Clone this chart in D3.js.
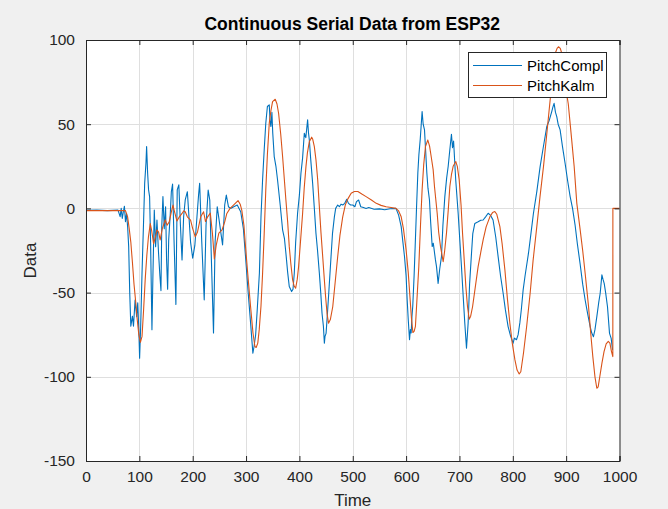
<!DOCTYPE html>
<html>
<head>
<meta charset="utf-8">
<script src="https://cdn.jsdelivr.net/npm/d3@7"></script>
<style>
  html, body { margin: 0; padding: 0; background: #f0f0f0; }
  svg { display: block; font-family: "Liberation Sans", Arial, Helvetica, sans-serif; }
</style>
</head>
<body>
<svg id="chart" width="668" height="509"></svg>
<script>
// ---- data ----
const xTicks = [0, 100, 200, 300, 400, 500, 600, 700, 800, 900, 1000];
const yTicks = [-150, -100, -50, 0, 50, 100];
const seriesNames = ["PitchCompl", "PitchKalm"];

const timeCompl = [0,20,40,60,64,66,68,70,72,74,76,78,80,82,84,87,89,92,95,97,99,100.5,102.5,105,108,110,112.4,113.6,115.5,117.3,119.2,121,123.6,125.5,128,130.5,133,136,138.5,140.5,142,144.2,146.7,149.2,151,153,155,158,160,162.3,165,168.5,171,174,177,180,183,186,190,193,196,200,204,208,211,213,217,221.6,225,229,232,235,239,242,246,250,253,256,260,263,267,271,277,283.5,290,295,299,304,308.5,312.8,315,318,321,325,328,331,334,337,340,343.5,345,346.6,348.5,350,352.8,356,359,364,368.5,372,374.7,378,381,385.4,388,390.4,393,396.6,400,402.9,406,409.2,412,415.4,417,418.6,421,424.8,428,431,434,437.4,440,442.4,445,446.8,448,450,452,455,459.3,462,465.6,468,471.8,475,478,481.2,485,488.7,492,496,500,504,507,511,515,520,525,530,540,550,560,570,581,586,590.8,594,597,600,602,604,606.4,608,609.5,611,612.5,615,617,619.5,622,624,626.4,628,630,632,634.5,636.5,638.9,641,643.8,646,648.9,651,655,657,660,663,666.3,669,672.6,676,678.9,682,685,687,689,693,697.6,700.5,703.8,707,710,713.2,716.3,719,722.6,725,728.8,735,740,744.4,749,753.8,758,763,768,772.5,777,781.9,786,791.2,796,800.6,803,806.9,810,813.2,816,819.4,823,829.4,834,838.7,845,851.2,857,863.7,868,873,875,877.4,880,882.4,885,888.7,893,898,903,907.5,912,916.8,921,926.2,931,935.6,940,945,948,951.2,954,957.5,961,963.8,967,969,971.3,974,977.5,981.3,984.4,987];
const pitchCompl = [-1.2,-1.0,-1.3,-1.0,-4.9,0,-6,-2,1.3,-7.9,-3,-10.8,-22.7,-50.4,-70,-64,-70,-54.4,-64.3,-56,-72,-89,-70,-38.5,-6.9,15,27,36.7,21,11,7,-18.7,-72,-38.5,-1,-22.7,-6.9,-26.6,-40,-48.8,-10.8,7,-12,1,-30,-48,-18.7,-3,10,14.4,-18.7,-57,11,14,-10,-30.6,-5,5,9.9,-5,-20,-29.6,-22,-5,8,14.9,-20,-54.3,-10,10.9,5,-30,-74,-20,1,-8,-15,-21.7,2,7.9,1,0,1,2,-2,-12,-28.6,-50,-68,-86,-82,-75,-60,-38.5,-5,17,34.7,50.6,60.5,61.5,52,48.6,57,45,30.8,25,17,2,-12.7,-18,-26.6,-38,-46.4,-49.4,-48,-38.5,-20,-2.9,8,20.9,30,44.6,42,52.6,45,40.7,30,15,0,-14.7,-25,-38.5,-50,-62.3,-70,-80,-76,-74.2,-65,-50.4,-28.6,-15,-4.9,0,2,1,2.5,2,3,5.4,3,2,2,1,4,5,1,0.5,0,0.5,-0.5,-0.3,-0.8,-0.2,0,-4,-10.8,-20,-28.6,-40,-54.3,-66,-78,-72,-74,-64,-58,-40,-22.6,0,21,32,40.7,48,57.5,50,46.6,35,21,12,5,-8,-22.6,-20.7,-30.6,-34.6,-44.5,-36,-28.6,-10,7,18,25,35,44,36,40,17,-3,-18,-34.6,-52,-68,-83,-68,-45,-26.6,-15,-8.9,-7.9,-7,-6.9,-5,-2.9,-4,-6.9,-17,-28.6,-40,-50.4,-60,-70.2,-76,-80,-77,-78,-75,-68,-60,-48.4,-40,-26.6,-15,-2.9,10,24.8,36,48.6,52,57.5,60,62.4,57,54.5,50,46.6,37,26.8,16,7,0,-10,-21,-33,-45,-54.4,-62,-70.2,-74,-76.2,-72,-64.3,-56,-50.4,-39.5,-42,-44.5,-50,-58.4,-74.2,-77.2,-84];

const timeKalm = [0,74,78,81,84,87,90,93,96,99,102,105,108,111,114,117,120.5,123,126.7,130,133,136,139,143,148.6,152,156,160,163,166,170.5,175,180,183,186,190,196,200,204.8,209,215,220.4,224,228,233,237,240.6,244,249,255,260,264,270,276.5,285,289,292,296,299,304,308.5,313,316.6,319,322,324.7,328,331,334,337,340,343.5,346.6,349.7,354.7,358,361,365,368.5,374.7,378,381,384,387.3,390,393,396,398.5,402,406,409,412.3,415,418.6,423,425,428,431,434.3,437,440.5,444,446.8,449,451.8,454.6,458,462.5,467,471.8,476,481.2,486,490.6,497,503,509.6,517,525,535,544,553,562.6,572,581,586,590.8,595,600,604,607.6,610,612.7,615,617.5,620,623.8,627,630,633,636.3,640.7,644,647,650.7,653.2,658.3,661,664.5,669.5,672,675.7,679,682,685,688.2,693.2,696,699.5,703,705.8,709,712,715,718.3,721,724.6,730,735,740,744.4,750,757,762,766.3,770,775.8,780,785.2,790,794.5,799,804,808,812,815,820,826,832.5,838,845,851,857.5,863,870,875,879.4,883,885.6,889,891.9,896,900,904,910,915,920,926,931,935.6,941.9,946,950,954,957.5,960,963,967,971,975,979,982,985,987.5,987.6,1000];
const pitchKalm = [-1.3,-1.3,-5,-12,-20,-32,-45,-55,-66,-75,-79.5,-76,-60,-42,-28,-17,-9,-13,-21,-17,-12.8,-14,-18.7,-12,-6.8,-10,-8,-2,2,-2,-7.5,-5,-3,-1.5,-2,-5,-7,-12,-16.9,-14,-5,-2,-7.8,-5,-2.8,-15,-30,-22,-14.7,-12.8,-8,-3,0,2,4.6,2.5,-1,-10,-22.7,-42,-58.4,-74,-82,-82.6,-80,-72,-58,-38.5,-15,11,32,50.6,58,63.4,64.8,62,56.5,44,30.8,5,-8,-22.7,-33,-42.5,-46,-47.4,-42,-34.6,-20,-3,12,24.8,33,39.6,42.3,41,36.7,29,17,3,-14.7,-30,-42.5,-52,-62.3,-68.2,-66,-58.4,-44,-28.6,-16,-5,2,5.5,9,10,10,8.5,7,5,3,1.8,1,0.5,0,-1.5,-5,-12,-24.6,-38,-54.3,-65,-73.7,-73,-70,-56,-34.6,-10,11,26,36.7,40.6,37,30.8,23,13,-3,-14,-22.7,-31.6,-26,-14.7,-1,13,20,25,27.8,25,17,2,-14.7,-31,-46.4,-58,-65.8,-64,-58.4,-46,-34.6,-26,-18.7,-11,-5,-2.5,-1.9,-3.5,-10.8,-21,-36.6,-54,-68.2,-80,-90,-96,-98.3,-97,-86,-70,-50.4,-31,-10.8,7,24.8,42,64.4,80,92,95,96,95,92,82,70,62,42,25,3,-12,-25,-38.5,-58,-74,-88,-100,-106.8,-106,-100,-92,-85,-80.5,-79,-80,-85,-88,0,0];

// ---- layout ----
const svg = d3.select("#chart");
const W = 668, H = 509;
const plot = { left: 86, right: 619.5, top: 40, bottom: 461 };
const axisColor = "#262626";
const blue = "#0072BD", orange = "#D95319";

svg.append("rect").attr("width", W).attr("height", H).attr("fill", "#f0f0f0");

const x = d3.scaleLinear().domain([0, 1000]).range([plot.left, plot.right]);
const y = d3.scaleLinear().domain([-150, 100]).range([plot.bottom, plot.top]);

svg.append("rect")
  .attr("x", plot.left).attr("y", plot.top)
  .attr("width", plot.right - plot.left).attr("height", plot.bottom - plot.top)
  .attr("fill", "#ffffff");

// grid
const grid = svg.append("g").attr("stroke", "#dfdfdf").attr("stroke-width", 1);
xTicks.slice(1, -1).forEach(t => {
  grid.append("line").attr("x1", Math.round(x(t)) + 0.5).attr("x2", Math.round(x(t)) + 0.5)
    .attr("y1", plot.top).attr("y2", plot.bottom);
});
yTicks.slice(1, -1).forEach(t => {
  grid.append("line").attr("y1", Math.round(y(t)) + 0.5).attr("y2", Math.round(y(t)) + 0.5)
    .attr("x1", plot.left).attr("x2", plot.right);
});

// lines
svg.append("clipPath").attr("id", "plotclip").append("rect")
  .attr("x", plot.left).attr("y", plot.top)
  .attr("width", plot.right - plot.left).attr("height", plot.bottom - plot.top);

const line = d3.line().x(d => x(d[0])).y(d => y(d[1]));
const complData = timeCompl.map((t, i) => [t, pitchCompl[i]]);
const kalmData = timeKalm.map((t, i) => [t, pitchKalm[i]]);

const lines = svg.append("g").attr("clip-path", "url(#plotclip)");
lines.append("path").datum(complData).attr("d", line)
  .attr("fill", "none").attr("stroke", blue).attr("stroke-width", 1.1).attr("stroke-linejoin", "round");
lines.append("path").datum(kalmData).attr("d", line)
  .attr("fill", "none").attr("stroke", orange).attr("stroke-width", 1.1).attr("stroke-linejoin", "round");

// axes (ticks inside, box on)
const tickLen = 5;
const fmt = d => String(d);
const xAxisB = d3.axisBottom(x).tickValues(xTicks).tickSize(-tickLen).tickPadding(tickLen + 5).tickFormat(fmt);
const xAxisT = d3.axisTop(x).tickValues(xTicks).tickSize(-tickLen).tickFormat("");
const yAxisL = d3.axisLeft(y).tickValues(yTicks).tickSize(-tickLen).tickPadding(tickLen + 6).tickFormat(fmt);
const yAxisR = d3.axisRight(y).tickValues(yTicks).tickSize(-tickLen).tickFormat("");

function styleAxis(g) {
  g.select(".domain").attr("stroke", axisColor).attr("stroke-width", 1);
  g.selectAll(".tick line").attr("stroke", axisColor);
  g.selectAll(".tick text").attr("fill", axisColor).attr("font-size", 15.5)
    .attr("font-family", "'Liberation Sans', Arial, sans-serif");
}
svg.append("g").attr("transform", `translate(0,${plot.bottom})`).call(xAxisB).call(styleAxis);
svg.append("g").attr("transform", `translate(0,${plot.top})`).call(xAxisT).call(styleAxis);
svg.append("g").attr("transform", `translate(${plot.left},0)`).call(yAxisL).call(styleAxis);
svg.append("g").attr("transform", `translate(${plot.right},0)`).call(yAxisR).call(styleAxis);

// title & labels
svg.append("text").attr("x", (plot.left + plot.right) / 2 - 0.5).attr("y", 30)
  .attr("text-anchor", "middle").attr("font-weight", "bold").attr("font-size", 17.5)
  .attr("fill", "#000").text("Continuous Serial Data from ESP32");
svg.append("text").attr("x", (plot.left + plot.right) / 2).attr("y", 506)
  .attr("text-anchor", "middle").attr("font-size", 17).attr("fill", axisColor).text("Time");
svg.append("text").attr("transform", `translate(36,${(plot.top + plot.bottom) / 2 + 10}) rotate(-90)`)
  .attr("text-anchor", "middle").attr("font-size", 17).attr("fill", axisColor).text("Data");

// legend
const lg = svg.append("g");
lg.append("rect").attr("x", 468.5).attr("y", 52.5).attr("width", 138).attr("height", 45)
  .attr("fill", "#ffffff").attr("stroke", axisColor).attr("stroke-width", 1);
lg.append("line").attr("x1", 473).attr("x2", 522).attr("y1", 65.5).attr("y2", 65.5)
  .attr("stroke", blue).attr("stroke-width", 1.1);
lg.append("text").attr("x", 527).attr("y", 70.5).attr("font-size", 15).attr("fill", "#000").text(seriesNames[0]);
lg.append("line").attr("x1", 473).attr("x2", 522).attr("y1", 85.5).attr("y2", 85.5)
  .attr("stroke", orange).attr("stroke-width", 1.1);
lg.append("text").attr("x", 527).attr("y", 90.5).attr("font-size", 15).attr("fill", "#000").text(seriesNames[1]);
</script>
</body>
</html>
